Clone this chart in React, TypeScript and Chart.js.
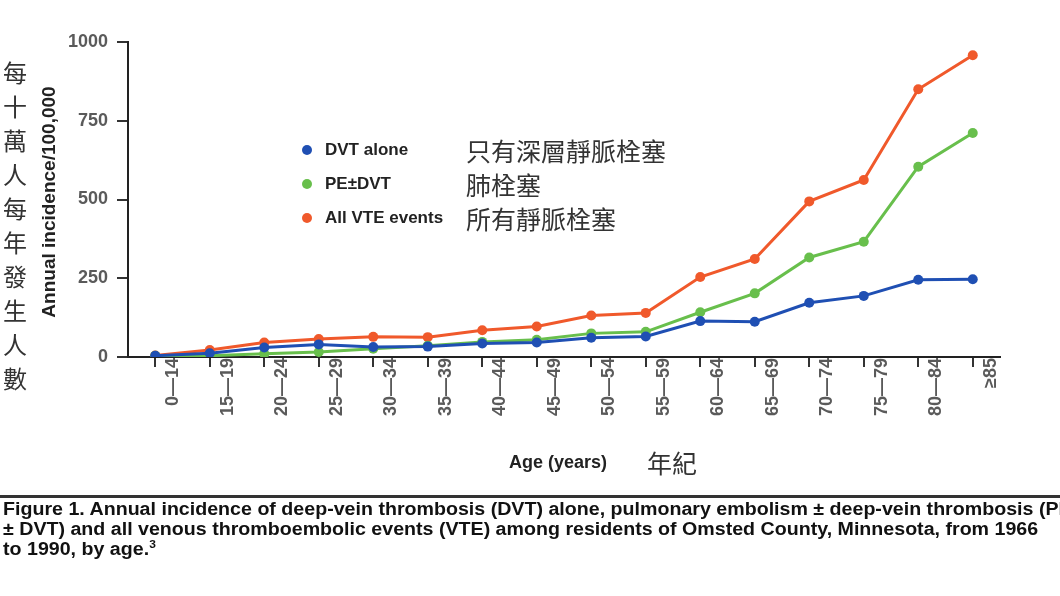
import React, { useEffect, useRef } from "react";
import { Chart, registerables } from "chart.js";

Chart.register(...registerables);

// ---------- data ----------
const ageGroups = ["0—14", "15—19", "20—24", "25—29", "30—34", "35—39", "40—44", "45—49", "50—54", "55—59", "60—64", "65—69", "70—74", "75—79", "80—84", "≥85"];
const dvtAlone = [4, 12, 30, 40, 32, 33, 43, 46, 61, 65, 114, 112, 172, 194, 245, 247];
const peDvt = [4, 4, 10, 16, 26, 36, 48, 55, 75, 80, 142, 202, 316, 366, 604, 711];
const allVte = [5, 22, 46, 57, 64, 63, 85, 97, 132, 140, 254, 311, 494, 562, 850, 958];
const yTicks = [0, 250, 500, 750, 1000];

const seriesNames = ["DVT alone", "PE±DVT", "All VTE events"];
const seriesNamesZh = ["只有深層靜脈栓塞", "肺栓塞", "所有靜脈栓塞"];
const seriesColors = ["#1f4fb3", "#68bf4c", "#f0592b"];

const yTitle = "Annual incidence/100,000";
const yTitleZh = "每十萬人每年發生人數";
const xTitle = "Age (years)";
const xTitleZh = "年紀";
const captionLines = [
  "Figure 1. Annual incidence of deep-vein thrombosis (DVT) alone, pulmonary embolism ± deep-vein thrombosis (PE",
  "± DVT) and all venous thromboembolic events (VTE) among residents of Omsted County, Minnesota, from 1966",
  "to 1990, by age.",
];
const captionRef = "3";

const SANS = '"Liberation Sans", Arial, Helvetica, sans-serif';
const CJK = '"Noto Sans CJK TC", "Noto Sans CJK SC", sans-serif';

export default function App() {
  const canvasRef = useRef<HTMLCanvasElement | null>(null);

  useEffect(() => {
    const canvas = canvasRef.current;
    if (!canvas) return;
    const series = [dvtAlone, peDvt, allVte];
    const chart = new Chart(canvas, {
      type: "line",
      data: {
        labels: ageGroups,
        datasets: series.map((d, i) => ({
          label: seriesNames[i],
          data: d,
          borderColor: seriesColors[i],
          backgroundColor: seriesColors[i],
          pointBackgroundColor: seriesColors[i],
          pointBorderColor: seriesColors[i],
          pointBorderWidth: 0,
          pointRadius: 5,
          borderWidth: 3,
          tension: 0,
          fill: false,
        })),
      },
      options: {
        responsive: false,
        animation: false,
        devicePixelRatio: 1,
        layout: { padding: { left: 0, top: 42, right: 60, bottom: 0 } },
        plugins: { legend: { display: false }, tooltip: { enabled: false }, title: { display: false } },
        scales: {
          x: {
            type: "category",
            offset: true,
            grid: { offset: false, drawOnChartArea: false, drawTicks: true, tickLength: 10, lineWidth: 2, color: "#333" },
            border: { display: true, color: "#222", width: 2 },
            ticks: {
              autoSkip: false,
              maxRotation: 90,
              minRotation: 90,
              padding: -9,
              labelOffset: 18,
              color: "#5a5a5a",
              font: { family: SANS, size: 18, weight: "bold" },
            },
            afterFit: (s: any) => {
              s.height = 596 - 357;
            },
          },
          y: {
            min: 0,
            max: 1000,
            afterBuildTicks: (s: any) => {
              s.ticks = yTicks.map((v) => ({ value: v }));
            },
            grid: { drawOnChartArea: false, drawTicks: true, tickLength: 11, lineWidth: 2, color: "#333" },
            border: { display: true, color: "#222", width: 2 },
            ticks: {
              padding: 9,
              color: "#5a5a5a",
              font: { family: SANS, size: 18, weight: "bold" },
              callback: (v: any) => String(v),
            },
            afterFit: (s: any) => {
              s.width = 128;
            },
          },
        },
      },
    } as any);
    return () => chart.destroy();
  }, []);

  const abs = (o: React.CSSProperties): React.CSSProperties => ({ position: "absolute", whiteSpace: "nowrap", ...o });

  return (
    <div style={{ position: "fixed", left: 0, top: 0, width: 1060, height: 596, background: "#fff", overflow: "hidden" }}>
      <canvas ref={canvasRef} width={1060} height={596} style={{ position: "absolute", left: 0, top: 0, width: 1060, height: 596 }} />

      {/* vertical Chinese y title */}
      <div style={abs({ left: 1, top: 55, width: 28, fontFamily: CJK, fontSize: 24, color: "#333" })}>
        {Array.from(yTitleZh).map((c, i) => (
          <div key={i} style={{ height: 34, lineHeight: "34px", textAlign: "center" }}>{c}</div>
        ))}
      </div>

      {/* English y title */}
      <div
        style={abs({
          left: 49 - 150,
          top: 202 - 12,
          width: 300,
          height: 24,
          lineHeight: "24px",
          textAlign: "center",
          transform: "rotate(-90deg)",
          fontFamily: SANS,
          fontWeight: "bold",
          fontSize: 19,
          color: "#222",
        })}
      >
        {yTitle}
      </div>

      {/* legend */}
      {seriesNames.map((n, i) => {
        const cy = [150, 184, 218][i];
        return (
          <React.Fragment key={n}>
            <div style={abs({ left: 302, top: cy - 5, width: 10, height: 10, borderRadius: 5, background: seriesColors[i] })} />
            <div style={abs({ left: 325, top: cy - 12, height: 24, lineHeight: "24px", fontFamily: SANS, fontWeight: "bold", fontSize: 17, color: "#222" })}>{n}</div>
            <div style={abs({ left: 466, top: cy - 16, height: 32, lineHeight: "32px", fontFamily: CJK, fontSize: 25, color: "#333" })}>{seriesNamesZh[i]}</div>
          </React.Fragment>
        );
      })}

      {/* x title */}
      <div style={abs({ left: 509, top: 462 - 12, height: 24, lineHeight: "24px", fontFamily: SANS, fontWeight: "bold", fontSize: 18, color: "#222" })}>{xTitle}</div>
      <div style={abs({ left: 647, top: 462 - 17, height: 34, lineHeight: "34px", fontFamily: CJK, fontSize: 25, color: "#333" })}>{xTitleZh}</div>

      {/* rule */}
      <div style={abs({ left: 0, top: 495, width: 1060, height: 3, background: "#333" })} />

      {/* caption */}
      <div
        style={abs({
          left: 3,
          top: 499,
          fontFamily: SANS,
          fontWeight: "bold",
          fontSize: 18,
          lineHeight: "20px",
          color: "#111",
          transform: "scaleX(1.09)",
          transformOrigin: "0 0",
        })}
      >
        {captionLines.map((l, i) => (
          <div key={i}>
            {l}
            {i === captionLines.length - 1 ? <sup style={{ fontSize: 11, lineHeight: 0 }}>{captionRef}</sup> : null}
          </div>
        ))}
      </div>
    </div>
  );
}
